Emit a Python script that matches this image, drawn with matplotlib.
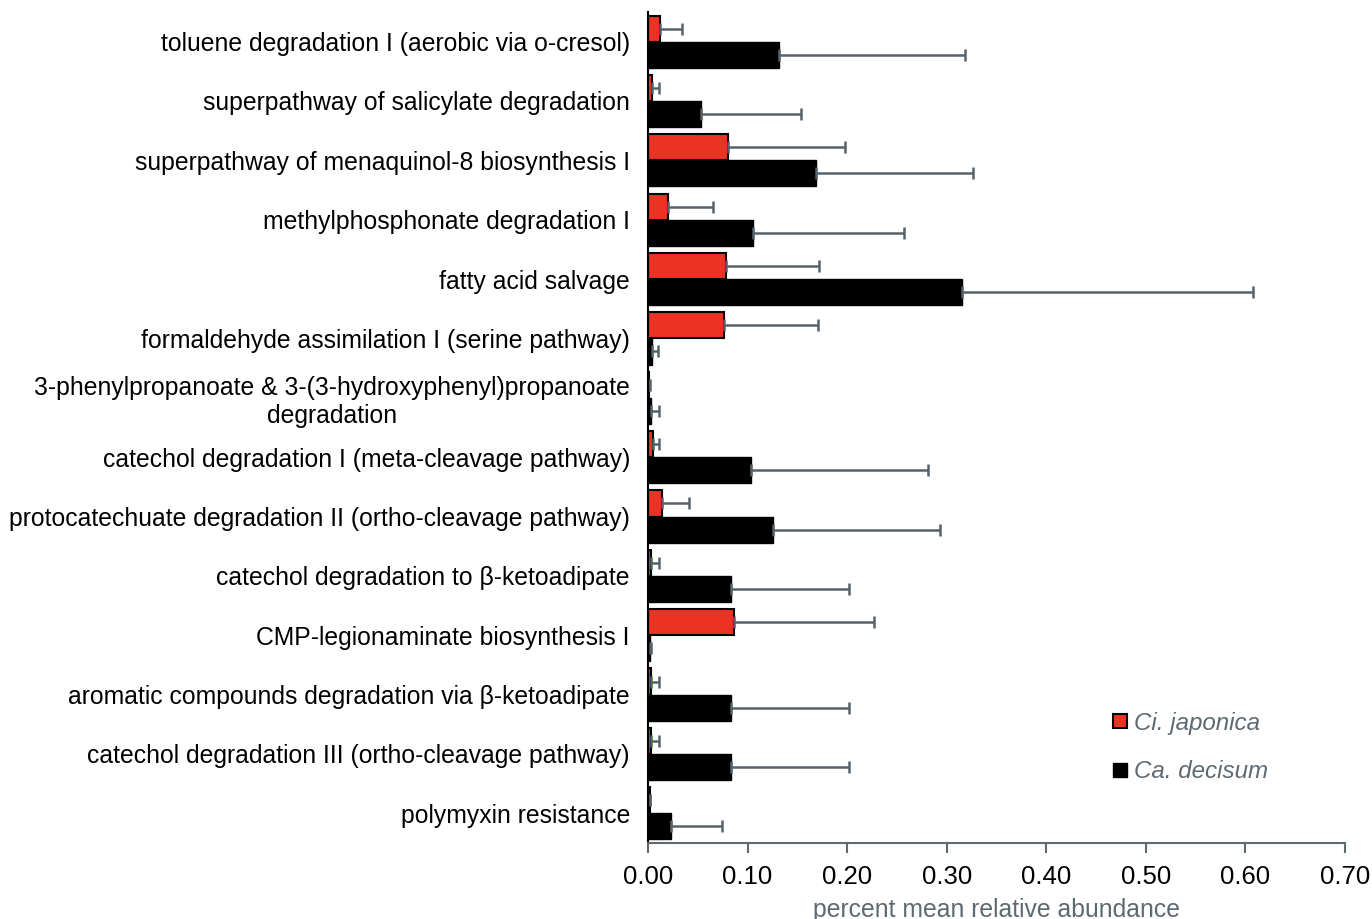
import numpy as np
import matplotlib
matplotlib.use("Agg")
from matplotlib import pyplot as plt
from matplotlib.lines import Line2D

plt.rcParams["font.family"] = ["Liberation Sans", "DejaVu Sans"]

pathways = [
    "toluene degradation I (aerobic via o-cresol)",
    "superpathway of salicylate degradation",
    "superpathway of menaquinol-8 biosynthesis I",
    "methylphosphonate degradation I",
    "fatty acid salvage",
    "formaldehyde assimilation I (serine pathway)",
    "3-phenylpropanoate & 3-(3-hydroxyphenyl)propanoate\ndegradation",
    "catechol degradation I (meta-cleavage pathway)",
    "protocatechuate degradation II (ortho-cleavage pathway)",
    "catechol degradation to \u03b2-ketoadipate",
    "CMP-legionaminate biosynthesis I",
    "aromatic compounds degradation via \u03b2-ketoadipate",
    "catechol degradation III (ortho-cleavage pathway)",
    "polymyxin resistance",
]

japonica_mean = [0.012, 0.004, 0.080, 0.020, 0.078, 0.076, 0.001, 0.005, 0.014, 0.003, 0.086, 0.003, 0.003, 0.002]
japonica_err = [0.022, 0.007, 0.118, 0.045, 0.094, 0.095, 0.001, 0.006, 0.027, 0.008, 0.141, 0.008, 0.008, 0.000]
decisum_mean = [0.132, 0.053, 0.169, 0.105, 0.315, 0.004, 0.003, 0.103, 0.126, 0.083, 0.002, 0.083, 0.083, 0.023]
decisum_err = [0.186, 0.101, 0.157, 0.152, 0.293, 0.006, 0.008, 0.178, 0.167, 0.119, 0.001, 0.119, 0.119, 0.051]

red = "#ea3323"
err_color = "#56626a"
gray_text = "#5d6a72"

fig = plt.figure(figsize=(13.72, 9.19), dpi=100)
ax = fig.add_axes([0.4723, 0.0827, 0.5080, 0.9043])

y = np.arange(len(pathways))
h = 0.44
ekw = dict(ecolor=err_color, elinewidth=1.8, capsize=4, capthick=1.8)

ax.barh(y - h / 2, japonica_mean, height=h, color=red, edgecolor="black", linewidth=1.5,
        xerr=[np.zeros(len(y)), japonica_err], error_kw=ekw)
ax.barh(y + h / 2, decisum_mean, height=h, color="black", edgecolor="black", linewidth=1.0,
        xerr=[np.zeros(len(y)), decisum_err], error_kw=ekw)

ax.set_ylim(len(pathways) - 0.5, -0.5)
ax.set_xlim(0, 0.70)
ax.set_xticks(np.arange(0, 0.71, 0.1))
ax.set_xticklabels([f"{v:.2f}" for v in np.arange(0, 0.71, 0.1)], fontsize=18.5)
ax.set_yticks(y)
ax.set_yticklabels(pathways, fontsize=17.8, multialignment="center")
ax.tick_params(axis="y", length=0, pad=13)
ax.tick_params(axis="x", direction="out", length=7, width=1.5, color=gray_text, pad=9)

for side in ["top", "right"]:
    ax.spines[side].set_visible(False)
ax.spines["left"].set_color("black")
ax.spines["left"].set_linewidth(1.5)
ax.spines["bottom"].set_color(gray_text)
ax.spines["bottom"].set_linewidth(1.5)

ax.set_xlabel("percent mean relative abundance", fontsize=17.8, color=gray_text, labelpad=6)

handles = [
    Line2D([], [], marker="s", linestyle="none", markersize=9.5, markerfacecolor=red,
           markeredgecolor="black", markeredgewidth=1.5),
    Line2D([], [], marker="s", linestyle="none", markersize=9.5, markerfacecolor="black",
           markeredgecolor="black"),
]
leg = ax.legend(handles, ["Ci. japonica", "Ca. decisum"], loc="lower left",
                bbox_to_anchor=(0.625, 0.046), frameon=False, handletextpad=0.0,
                handlelength=1.2, labelspacing=1.05, prop={"style": "italic", "size": 17.4})
for t in leg.get_texts():
    t.set_color(gray_text)

fig.savefig("out.png", dpi=100)
